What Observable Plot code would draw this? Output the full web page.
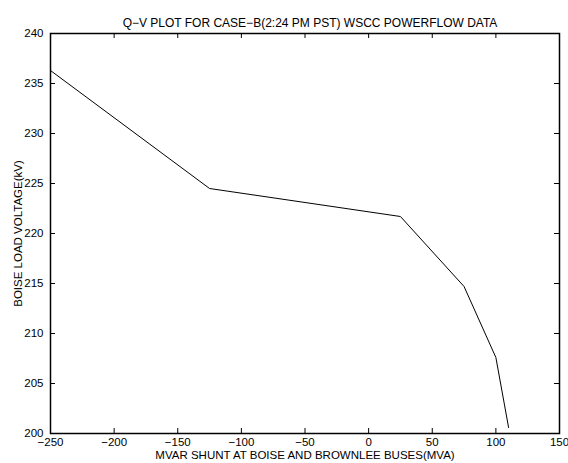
<!DOCTYPE html>
<html>
<head>
<meta charset="utf-8">
<script src="https://cdn.jsdelivr.net/npm/d3@7"></script>
<script src="https://cdn.jsdelivr.net/npm/@observablehq/plot@0.6"></script>
<style>
  html, body { margin: 0; padding: 0; background: #fff; }
</style>
</head>
<body>
<div id="chart"></div>
<script>
const qMvar = [-250, -125, 25, 75, 100, 110];
const voltage = [236.3, 224.5, 221.7, 214.7, 207.6, 200.6];
const xTicks = [-250, -200, -150, -100, -50, 0, 50, 100, 150];
const yTicks = [200, 205, 210, 215, 220, 225, 230, 235, 240];
const title = "Q\u2212V PLOT FOR CASE\u2212B(2:24 PM PST) WSCC POWERFLOW DATA";
const xLabel = "MVAR SHUNT AT BOISE AND BROWNLEE BUSES(MVA)";
const yLabel = "BOISE LOAD VOLTAGE(kV)";

const data = qMvar.map((q, i) => ({q, v: voltage[i]}));

const W = 568, H = 463;
const mL = 50, mR = 9, mT = 33, mB = 30;
const plotH = H - mT - mB;
const plotW = W - mL - mR;
const tick = 5;

const chart = Plot.plot({
  width: W,
  height: H,
  marginLeft: mL,
  marginRight: mR,
  marginTop: mT,
  marginBottom: mB,
  style: {fontFamily: "'Liberation Sans', Arial, sans-serif", fontSize: "11.5px", color: "#000", background: "#fff"},
  x: {domain: [-250, 150]},
  y: {domain: [200, 240]},
  marks: [
    Plot.axisX(xTicks, {tickSize: 0, tickPadding: 4, label: null, fontSize: 11.5}),
    Plot.axisY(yTicks, {tickSize: 0, tickPadding: 7, label: null, fontSize: 11.5}),
    // inward ticks: bottom & top
    Plot.tickX(xTicks, {x: d => d, stroke: "#000", strokeWidth: 1, insetTop: plotH - tick}),
    Plot.tickX(xTicks, {x: d => d, stroke: "#000", strokeWidth: 1, insetBottom: plotH - tick}),
    // inward ticks: left & right
    Plot.tickY(yTicks, {y: d => d, stroke: "#000", strokeWidth: 1, insetRight: plotW - tick}),
    Plot.tickY(yTicks, {y: d => d, stroke: "#000", strokeWidth: 1, insetLeft: plotW - tick}),
    Plot.frame({stroke: "#000", strokeWidth: 1.5}),
    Plot.line(data, {x: "q", y: "v", stroke: "#000", strokeWidth: 1}),
    Plot.text([title], {frameAnchor: "top", dy: -15, dx: 5, fontSize: 12, fill: "#000"}),
    Plot.text([xLabel], {frameAnchor: "bottom", dy: 25, fontSize: 11.5, fill: "#000"}),
    Plot.text([yLabel], {frameAnchor: "left", textAnchor: "middle", dx: -32, rotate: -90, fontSize: 11.5, fill: "#000"})
  ]
});
document.getElementById("chart").appendChild(chart);
</script>
</body>
</html>
